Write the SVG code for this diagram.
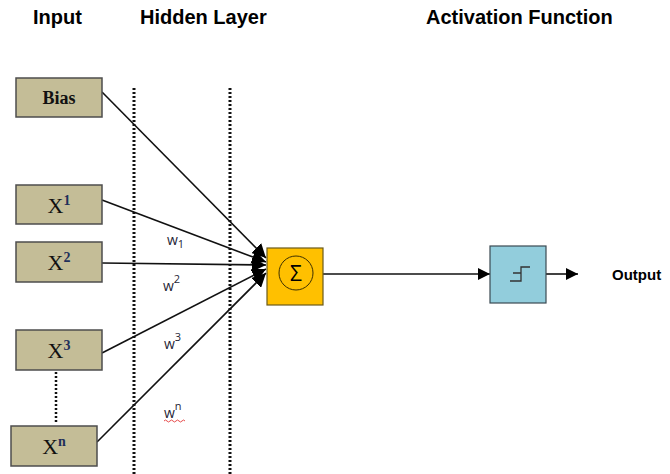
<svg xmlns="http://www.w3.org/2000/svg" width="670" height="474" viewBox="0 0 670 474">
  <style>
    .head { font-family: "Liberation Sans", Arial, sans-serif; font-weight: bold; font-size: 20px; fill: #000; }
    .inbox { fill: #C4BD97; stroke: #4d4d4d; stroke-width: 1.5; }
    .intext { font-family: "Liberation Serif", "Times New Roman", serif; font-size: 22px; fill: #111; text-anchor: middle; }
    .sup { font-size: 14px; font-weight: bold; fill: #1f2f5a; }
    .wire { stroke: #111; stroke-width: 1.6; fill: none; }
    .dots { stroke: #111; stroke-width: 3; stroke-dasharray: 2 2; fill: none; }
    .wlabel { font-family: "Open Sans", "Liberation Sans", sans-serif; font-size: 14px; fill: #1e2436; }
    .wsub { font-size: 11px; }
  </style>
  <defs>
    <marker id="bigArrow" markerUnits="userSpaceOnUse" markerWidth="16" markerHeight="14" refX="14" refY="7" orient="auto">
      <path d="M0,0 L14,7 L0,14 Z" fill="#000"/>
    </marker>
    <marker id="arrow" markerUnits="userSpaceOnUse" markerWidth="14" markerHeight="14" refX="12" refY="7" orient="auto">
      <path d="M0,1 L12,7 L0,13 Z" fill="#000"/>
    </marker>
  </defs>

  <!-- column headings -->
  <text class="head" x="33" y="24">Input</text>
  <text class="head" x="140" y="24">Hidden Layer</text>
  <text class="head" x="426" y="24">Activation Function</text>

  <!-- hidden layer boundaries -->
  <g id="layer-bounds">
    <line class="dots" x1="134" y1="88" x2="134" y2="474"/>
    <line class="dots" x1="230" y1="88" x2="230" y2="474"/>
  </g>

  <!-- connectors -->
  <g id="connectors">
    <line class="wire" x1="102" y1="92" x2="266" y2="258" marker-end="url(#bigArrow)"/>
    <line class="wire" x1="102" y1="200" x2="266" y2="262" marker-end="url(#bigArrow)"/>
    <line class="wire" x1="102" y1="263" x2="266" y2="265" marker-end="url(#bigArrow)"/>
    <line class="wire" x1="102" y1="353" x2="266" y2="269" marker-end="url(#bigArrow)"/>
    <line class="wire" x1="97" y1="442" x2="266" y2="273" marker-end="url(#bigArrow)"/>
    <line class="dots" x1="56" y1="372" x2="56" y2="424" style="stroke-width:2.5"/>
    <line class="wire" x1="323" y1="274" x2="490" y2="274" marker-end="url(#arrow)"/>
    <line class="wire" x1="546" y1="274" x2="578" y2="274" marker-end="url(#arrow)"/>
  </g>

  <!-- weight labels -->
  <g id="weights">
    <text class="wlabel" x="167" y="245">w<tspan class="wsub" dy="3">1</tspan></text>
    <text class="wlabel" x="163" y="291">w<tspan class="wsub" dy="-8">2</tspan></text>
    <text class="wlabel" x="164" y="349">w<tspan class="wsub" dy="-8">3</tspan></text>
    <text class="wlabel" x="164" y="418">w<tspan class="wsub" dy="-8">n</tspan></text>
    <path d="M164,421 q1.5,-2 3,0 t3,0 t3,0 t3,0 t3,0 t3,0 t3,0" stroke="#e02020" stroke-width="0.8" fill="none"/>
  </g>

  <!-- input nodes -->
  <g id="bias">
    <rect class="inbox" x="16" y="78" width="86" height="39"/>
    <text class="intext" x="59" y="104" style="font-weight:bold;font-size:18px">Bias</text>
  </g>
  <g id="x1">
    <rect class="inbox" x="16" y="185" width="86" height="39"/>
    <text class="intext" x="59" y="213">X<tspan class="sup" dy="-8">1</tspan></text>
  </g>
  <g id="x2">
    <rect class="inbox" x="16" y="242" width="86" height="40"/>
    <text class="intext" x="59" y="270">X<tspan class="sup" dy="-8">2</tspan></text>
  </g>
  <g id="x3">
    <rect class="inbox" x="16" y="330" width="86" height="40"/>
    <text class="intext" x="59" y="358">X<tspan class="sup" dy="-8">3</tspan></text>
  </g>
  <g id="xn">
    <rect class="inbox" x="11" y="426" width="86" height="40"/>
    <text class="intext" x="54" y="454">X<tspan class="sup" dy="-8">n</tspan></text>
  </g>

  <!-- summation node -->
  <g id="sum">
    <rect x="267" y="248" width="56" height="57" fill="#FFC000" stroke="#6b5a1a" stroke-width="1.2"/>
    <circle cx="296" cy="273" r="17" fill="none" stroke="#3d3000" stroke-width="1"/>
    <text x="296" y="281" font-family="'Open Sans', 'DejaVu Sans', sans-serif" font-size="21" text-anchor="middle" fill="#000">Σ</text>
  </g>

  <!-- activation node -->
  <g id="activation">
    <rect x="490" y="246" width="56" height="57" fill="#92CDDC" stroke="#3b4a52" stroke-width="1.2"/>
    <path d="M510,281 H521 V267 H530 M513,273 H521" stroke="#333" stroke-width="1.3" fill="none"/>
  </g>

  <g id="output">
    <text x="612" y="280" font-family="'Liberation Sans', Arial, sans-serif" font-weight="bold" font-size="15" fill="#000">Output</text>
  </g>
</svg>
